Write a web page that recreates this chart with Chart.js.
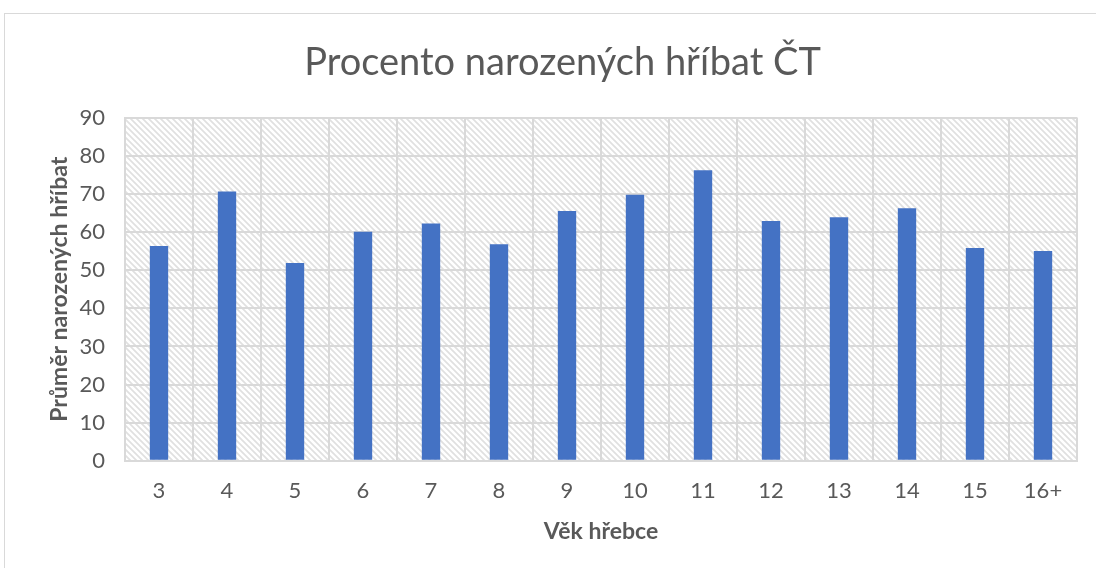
<!DOCTYPE html>
<html lang="cs">
<head>
<meta charset="utf-8" />
<title>Procento narozených hříbat ČT</title>
<script src="https://cdn.jsdelivr.net/npm/chart.js"></script>
<style>
  html, body { margin: 0; padding: 0; background: #fff; }
  #wrap { position: relative; width: 1096px; height: 568px; overflow: hidden; }
  #frame { position: absolute; left: 4px; top: 13px; width: 1200px; height: 700px; border: 1px solid #d9d9d9; }
  #chart { position: absolute; left: 0; top: 0; }
</style>
</head>
<body>
<div id="wrap">
  <div id="frame"></div>
  <canvas id="chart" width="1096" height="568"></canvas>
</div>
<script>
  const ages = ['3', '4', '5', '6', '7', '8', '9', '10', '11', '12', '13', '14', '15', '16+'];
  const foalPercent = [56.3, 70.6, 51.9, 60.1, 62.2, 56.8, 65.5, 69.8, 76.2, 62.9, 63.9, 66.2, 55.8, 55.0];

  const textColor = '#595959';
  const fontFamily = 'Lato, "Open Sans", sans-serif';

  // light diagonal hatch behind the bars
  function makeHatch(ctx) {
    const c = document.createElement('canvas');
    c.width = 6; c.height = 6;
    const p = c.getContext('2d');
    p.fillStyle = '#ffffff';
    p.fillRect(0, 0, 6, 6);
    p.strokeStyle = '#e0e0e0';
    p.lineWidth = 1.7;
    p.beginPath();
    p.moveTo(-1, -1); p.lineTo(7, 7);
    p.moveTo(-4, 2); p.lineTo(4, 10);
    p.moveTo(2, -4); p.lineTo(10, 4);
    p.stroke();
    return ctx.createPattern(c, 'repeat');
  }

  const hatchBg = {
    id: 'hatchBg',
    beforeDraw(chart) {
      const { ctx, chartArea: a } = chart;
      ctx.save();
      ctx.fillStyle = makeHatch(ctx);
      ctx.fillRect(a.left, a.top, a.right - a.left, a.bottom - a.top);
      ctx.restore();
    }
  };

  new Chart(document.getElementById('chart').getContext('2d'), {
    type: 'bar',
    data: {
      labels: ages,
      datasets: [{
        data: foalPercent,
        backgroundColor: '#4472c4',
        borderWidth: 0,
        barPercentage: 0.27,
        categoryPercentage: 1.0
      }]
    },
    plugins: [hatchBg],
    options: {
      responsive: false,
      animation: false,
      layout: { padding: { left: 48, right: 19, top: 0, bottom: 26 } },
      plugins: {
        legend: { display: false },
        tooltip: { enabled: false },
        title: {
          display: true,
          text: 'Procento narozených hříbat ČT',
          color: textColor,
          font: { family: fontFamily, size: 38, weight: 'normal' },
          padding: { top: 40, bottom: 32 }
        }
      },
      scales: {
        x: {
          grid: { color: '#d9d9d9', lineWidth: 2, drawTicks: false },
          border: { color: '#d9d9d9', width: 2 },
          ticks: { color: textColor, font: { family: fontFamily, size: 22, lineHeight: 1 }, padding: 19 },
          title: {
            display: true,
            text: 'Věk hřebce',
            color: textColor,
            font: { family: fontFamily, size: 23, weight: 'bold', lineHeight: 0.92 },
            padding: { top: 0, bottom: 0 }
          }
        },
        y: {
          min: 0,
          max: 90,
          afterFit(scale) { scale.width = 77; },
          ticks: { stepSize: 10, color: textColor, font: { family: fontFamily, size: 22 }, padding: 20 },
          grid: { color: '#d9d9d9', lineWidth: 2, drawTicks: false },
          border: { color: '#d9d9d9', width: 2 },
          title: {
            display: true,
            text: 'Průměr narozených hříbat',
            color: textColor,
            font: { family: fontFamily, size: 23, weight: 'bold', lineHeight: 1 },
            padding: { top: 0, bottom: 0 }
          }
        }
      }
    }
  });
</script>
</body>
</html>
